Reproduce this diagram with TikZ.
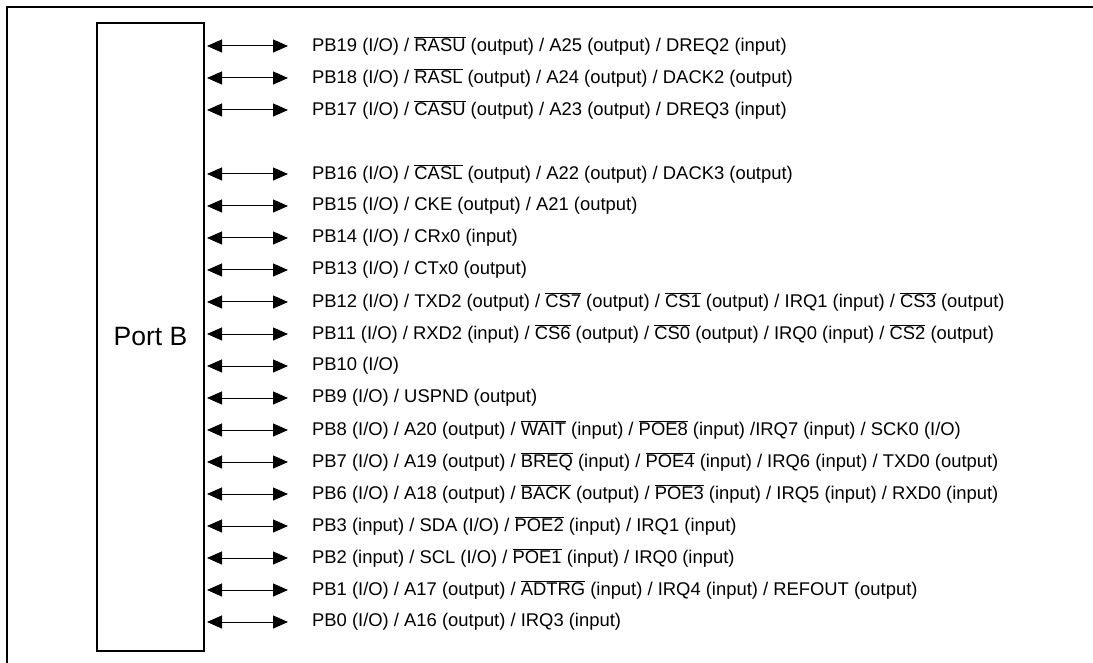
\documentclass[tikz,border=0pt]{standalone}
\usepackage{fontspec}
\setmainfont{Liberation Sans}
\usepackage{tikz}
\usetikzlibrary{arrows.meta,calc}

\newcommand{\ovl}[1]{$\overline{\mbox{#1}}$}

\begin{document}
\begin{tikzpicture}[x=1pt,y=-1pt,
  pin/.style={{Triangle[length=15pt,width=13pt]}-{Triangle[length=15pt,width=13pt]},line width=1pt},
  sig/.style={anchor=west,inner sep=0pt,font=\fontsize{18.4}{22}\selectfont}]
  \useasboundingbox (0,0) rectangle (1093,663);
  \draw[line width=2pt] (7,663) -- (7,7) -- (1093,7);
  \node[draw,line width=2pt,minimum width=107pt,minimum height=628pt,outer xsep=3pt,
        font=\fontsize{26.5}{30}\selectfont] (port) at (150.5,337) {Port B};

  \node[sig] (pb19) at (312,46)  {PB19 (I/O) / \ovl{RASU} (output) / A25 (output) / DREQ2 (input)};
  \node[sig] (pb18) at (312,78)  {PB18 (I/O) / \ovl{RASL} (output) / A24 (output) / DACK2 (output)};
  \node[sig] (pb17) at (312,110) {PB17 (I/O) / \ovl{CASU} (output) / A23 (output) / DREQ3 (input)};
  \node[sig] (pb16) at (312,174) {PB16 (I/O) / \ovl{CASL} (output) / A22 (output) / DACK3 (output)};
  \node[sig] (pb15) at (312,206) {PB15 (I/O) / CKE (output) / A21 (output)};
  \node[sig] (pb14) at (312,238) {PB14 (I/O) / CRx0 (input)};
  \node[sig] (pb13) at (312,270) {PB13 (I/O) / CTx0 (output)};
  \node[sig] (pb12) at (312,302) {PB12 (I/O) / TXD2 (output) / \ovl{CS7} (output) / \ovl{CS1} (output) / IRQ1 (input) / \ovl{CS3} (output)};
  \node[sig] (pb11) at (312,334) {PB11 (I/O) / RXD2 (input) / \ovl{CS6} (output) / \ovl{CS0} (output) / IRQ0 (input) / \ovl{CS2} (output)};
  \node[sig] (pb10) at (312,366) {PB10 (I/O)};
  \node[sig] (pb9)  at (312,398) {PB9 (I/O) / USPND (output)};
  \node[sig] (pb8)  at (312,430) {PB8 (I/O) / A20 (output) / \ovl{WAIT} (input) / \ovl{POE8} (input) /IRQ7 (input) / SCK0 (I/O)};
  \node[sig] (pb7)  at (312,462) {PB7 (I/O) / A19 (output) / \ovl{BREQ} (input) / \ovl{POE4} (input) / IRQ6 (input) / TXD0 (output)};
  \node[sig] (pb6)  at (312,494) {PB6 (I/O) / A18 (output) / \ovl{BACK} (output) / \ovl{POE3} (input) / IRQ5 (input) / RXD0 (input)};
  \node[sig] (pb3)  at (312,526) {PB3 (input) / SDA (I/O) / \ovl{POE2} (input) / IRQ1 (input)};
  \node[sig] (pb2)  at (312,558) {PB2 (input) / SCL (I/O) / \ovl{POE1} (input) / IRQ0 (input)};
  \node[sig] (pb1)  at (312,590) {PB1 (I/O) / A17 (output) / \ovl{ADTRG} (input) / IRQ4 (input) / REFOUT (output)};
  \node[sig] (pb0)  at (312,622) {PB0 (I/O) / A16 (output) / IRQ3 (input)};

  \foreach \p in {pb19,pb18,pb17,pb16,pb15,pb14,pb13,pb12,pb11,pb10,pb9,pb8,pb7,pb6,pb3,pb2,pb1,pb0}
    \draw[pin] (port.east |- \p.west) -- ($(\p.west)+(-24,0)$);
\end{tikzpicture}
\end{document}
